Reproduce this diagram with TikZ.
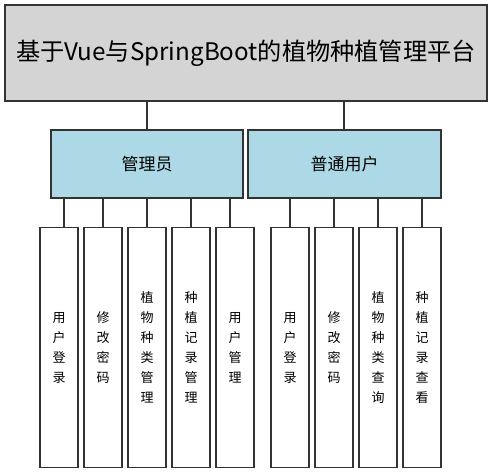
\documentclass[tikz,border=0pt]{standalone}
\usepackage{fontspec}
\setmainfont{Noto Sans CJK SC}
\begin{document}
\begin{tikzpicture}[x=1pt,y=-1pt,
  box/.style={draw=black!80,line width=1.2pt,inner sep=0pt},
  wire/.style={draw=black!80,line width=1.2pt},
  mid/.style={box,fill={rgb,255:red,173;green,216;blue,230},minimum height=68pt,font=\fontsize{17}{20}\selectfont},
  leaf/.style={box,fill=white,minimum width=38pt,minimum height=240pt,font=\fontsize{13}{20}\selectfont,align=center,anchor=north}]
\useasboundingbox (0,0) rectangle (492,473);
\node[box,fill=black!17,minimum width=482pt,minimum height=96pt,font=\fontsize{24.2}{28}\selectfont] (top) at (246,53) {基于Vue与SpringBoot的植物种植管理平台};
\node[mid,minimum width=192pt] (admin) at (147,164) {管理员};
\node[mid,minimum width=193pt] (user) at (344.5,164) {普通用户};
\coordinate (tu) at (344,130);
\draw[wire] (admin.north) -- (admin.north |- top.south);
\draw[wire] (tu) -- (tu |- top.south);
\node[leaf] (a1) at (59,227) {用\\户\\登\\录};
\node[leaf] (a2) at (103,227) {修\\改\\密\\码};
\node[leaf] (a3) at (147,227) {植\\物\\种\\类\\管\\理};
\node[leaf] (a4) at (191,227) {种\\植\\记\\录\\管\\理};
\node[leaf] (a5) at (235,227) {用\\户\\管\\理};
\node[leaf] (u1) at (290,227) {用\\户\\登\\录};
\node[leaf] (u2) at (334,227) {修\\改\\密\\码};
\node[leaf] (u3) at (378,227) {植\\物\\种\\类\\查\\询};
\node[leaf] (u4) at (422,227) {种\\植\\记\\录\\查\\看};
\coordinate (c1) at (64,227);
\coordinate (c5) at (230,227);
\draw[wire] (c1) -- (c1 |- admin.south);
\draw[wire] (a2.north) -- (a2.north |- admin.south);
\draw[wire] (a3.north) -- (a3.north |- admin.south);
\draw[wire] (a4.north) -- (a4.north |- admin.south);
\draw[wire] (c5) -- (c5 |- admin.south);
\draw[wire] (u1.north) -- (u1.north |- user.south);
\draw[wire] (u2.north) -- (u2.north |- user.south);
\draw[wire] (u3.north) -- (u3.north |- user.south);
\draw[wire] (u4.north) -- (u4.north |- user.south);
\end{tikzpicture}
\end{document}
